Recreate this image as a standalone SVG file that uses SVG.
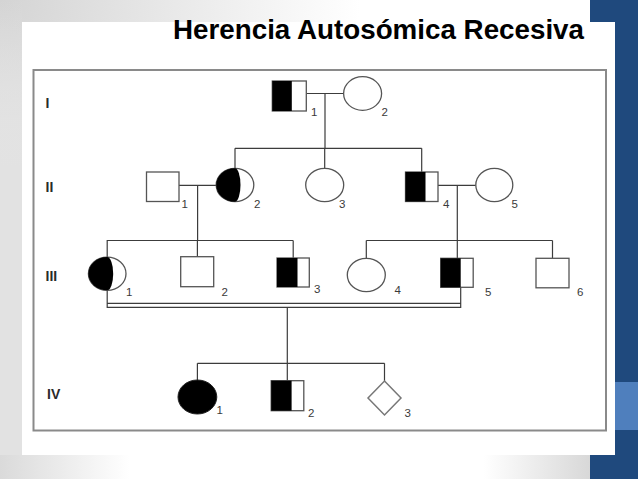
<svg xmlns="http://www.w3.org/2000/svg" width="638" height="479" viewBox="0 0 638 479">
<style>
.ln{stroke:#3c3c3c;stroke-width:1.2;fill:none}
.sh{stroke:#555;stroke-width:1.3;fill:#fff}
.blk{fill:#000;stroke:none}
.num{font-family:"Liberation Sans",Arial,sans-serif;font-size:11.5px;fill:#3a3a3a}
.gen{font-family:"Liberation Sans",Arial,sans-serif;font-size:14px;font-weight:bold;fill:#2a2a2a}
</style>
<defs>
<radialGradient id="tl" cx="0" cy="0" r="360" gradientUnits="userSpaceOnUse">
<stop offset="0" stop-color="#d4d4d4"/><stop offset="1" stop-color="#ffffff"/>
</radialGradient>
<linearGradient id="bot" x1="0" y1="0" x2="590" y2="0" gradientUnits="userSpaceOnUse">
<stop offset="0" stop-color="#dadada"/><stop offset="0.22" stop-color="#ffffff"/><stop offset="0.82" stop-color="#ffffff"/><stop offset="1" stop-color="#d8d8d8"/>
</linearGradient>
<linearGradient id="lft" x1="0" y1="0" x2="0" y2="479" gradientUnits="userSpaceOnUse">
<stop offset="0" stop-color="#e2e2e2" stop-opacity="0"/><stop offset="0.35" stop-color="#e2e2e2" stop-opacity="1"/><stop offset="1" stop-color="#e2e2e2" stop-opacity="1"/>
</linearGradient>
</defs>
<g id="background">
<rect x="0" y="0" width="638" height="479" fill="url(#tl)"/>
<rect x="0" y="0" width="22" height="479" fill="url(#lft)"/>
<rect x="0" y="455" width="590" height="24" fill="url(#bot)"/>
<rect x="590" y="0" width="48" height="479" fill="#1f497d"/>
<rect x="615" y="382" width="23" height="48" fill="#4f7fbd"/>
<rect x="22" y="22" width="593" height="433" fill="#ffffff"/>
</g>
<text x="173" y="39" textLength="411" lengthAdjust="spacingAndGlyphs" font-family="'Liberation Sans',Arial,sans-serif" font-weight="bold" font-size="28" fill="#000">Herencia Autosómica Recesiva</text>
<rect x="33.5" y="70" width="572.5" height="360.5" fill="none" stroke="#8a8a8a" stroke-width="2"/>
<g id="generations">
<text class="gen" x="45.5" y="107.5">I</text>
<text class="gen" x="45.5" y="192">II</text>
<text class="gen" x="45.5" y="281">III</text>
<text class="gen" x="47" y="399">IV</text>
</g>
<g id="connectors">
<path class="ln" d="M306.3 93.5H343.7M325 93.5V148.3M235 148.3H421.7M235 148.3V168.3M324.7 148.3V168.3M421.7 148.3V172"/>
<path class="ln" d="M179 185.3H216.2M197.6 185.3V240.5M106.6 240.5H293.2M107.2 240.5V257.3M197.4 240.5V256.7M293.2 240.5V258"/>
<path class="ln" d="M438 185.3H475.8M457.3 185.3V240.5M366.3 240.5H552.5M366.3 240.5V258.3M457.3 240.5V258.3M552.5 240.5V258.3"/>
<path class="ln" d="M107.2 290.3V307.3H460.7V287.3M107.2 303.3H460.7M287.3 307.3V380.7M197.4 363.3H384.5M197.4 363.3V380M384.5 363.3V381"/>
</g>
<g id="I-1"><rect class="sh" x="272.3" y="81" width="34" height="30"/><rect class="blk" x="272.3" y="81" width="19.5" height="30"/><text class="num" x="311" y="116">1</text></g>
<g id="I-2"><ellipse class="sh" cx="362.6" cy="93.5" rx="19" ry="16.8"/><text class="num" x="381.5" y="116">2</text></g>
<g id="II-1"><rect class="sh" x="146.5" y="172" width="32.5" height="29.5"/><text class="num" x="181.5" y="208">1</text></g>
<g id="II-2"><ellipse class="sh" cx="235" cy="185" rx="18.8" ry="16.7"/><path class="blk" d="M235 168.3A18.8 16.7 0 0 0 235 201.7A5.5 16.7 0 0 0 235 168.3Z"/><text class="num" x="254" y="208">2</text></g>
<g id="II-3"><ellipse class="sh" cx="324.7" cy="185" rx="19" ry="16.7"/><text class="num" x="339" y="208">3</text></g>
<g id="II-4"><rect class="sh" x="405.5" y="172" width="32.5" height="29.5"/><rect class="blk" x="405.5" y="172" width="20" height="29.5"/><text class="num" x="443" y="208">4</text></g>
<g id="II-5"><ellipse class="sh" cx="494.3" cy="185" rx="18.5" ry="16.7"/><text class="num" x="511.5" y="208">5</text></g>
<g id="III-1"><ellipse class="sh" cx="107.2" cy="273.7" rx="18.8" ry="16.6"/><path class="blk" d="M107.2 257.1A18.8 16.6 0 0 0 107.2 290.3A6 16.6 0 0 0 107.2 257.1Z"/><text class="num" x="126" y="296">1</text></g>
<g id="III-2"><rect class="sh" x="180.7" y="256.7" width="33" height="30"/><text class="num" x="221.5" y="296">2</text></g>
<g id="III-3"><rect class="sh" x="277" y="258" width="32.3" height="29"/><rect class="blk" x="277" y="258" width="20.5" height="29"/><text class="num" x="314" y="293">3</text></g>
<g id="III-4"><ellipse class="sh" cx="366.3" cy="275" rx="19" ry="16.7"/><text class="num" x="394.5" y="294">4</text></g>
<g id="III-5"><rect class="sh" x="440.7" y="258.3" width="32.5" height="29"/><rect class="blk" x="440.7" y="258.3" width="20" height="29"/><text class="num" x="485" y="295.5">5</text></g>
<g id="III-6"><rect class="sh" x="536" y="258.3" width="33" height="29.5"/><text class="num" x="577" y="296">6</text></g>
<g id="IV-1"><ellipse cx="197.4" cy="397" rx="19.4" ry="17" fill="#000" stroke="#222" stroke-width="1"/><text class="num" x="216.5" y="414">1</text></g>
<g id="IV-2"><rect class="sh" x="271.2" y="380.7" width="32.6" height="30"/><rect class="blk" x="271.2" y="380.7" width="20.4" height="30"/><text class="num" x="308" y="416.5">2</text></g>
<g id="IV-3"><polygon class="sh" points="384.5,381 401,398 384.5,415 368,398" style="stroke:#777;stroke-width:1.5"/><text class="num" x="404.5" y="416.5">3</text></g>
</svg>
